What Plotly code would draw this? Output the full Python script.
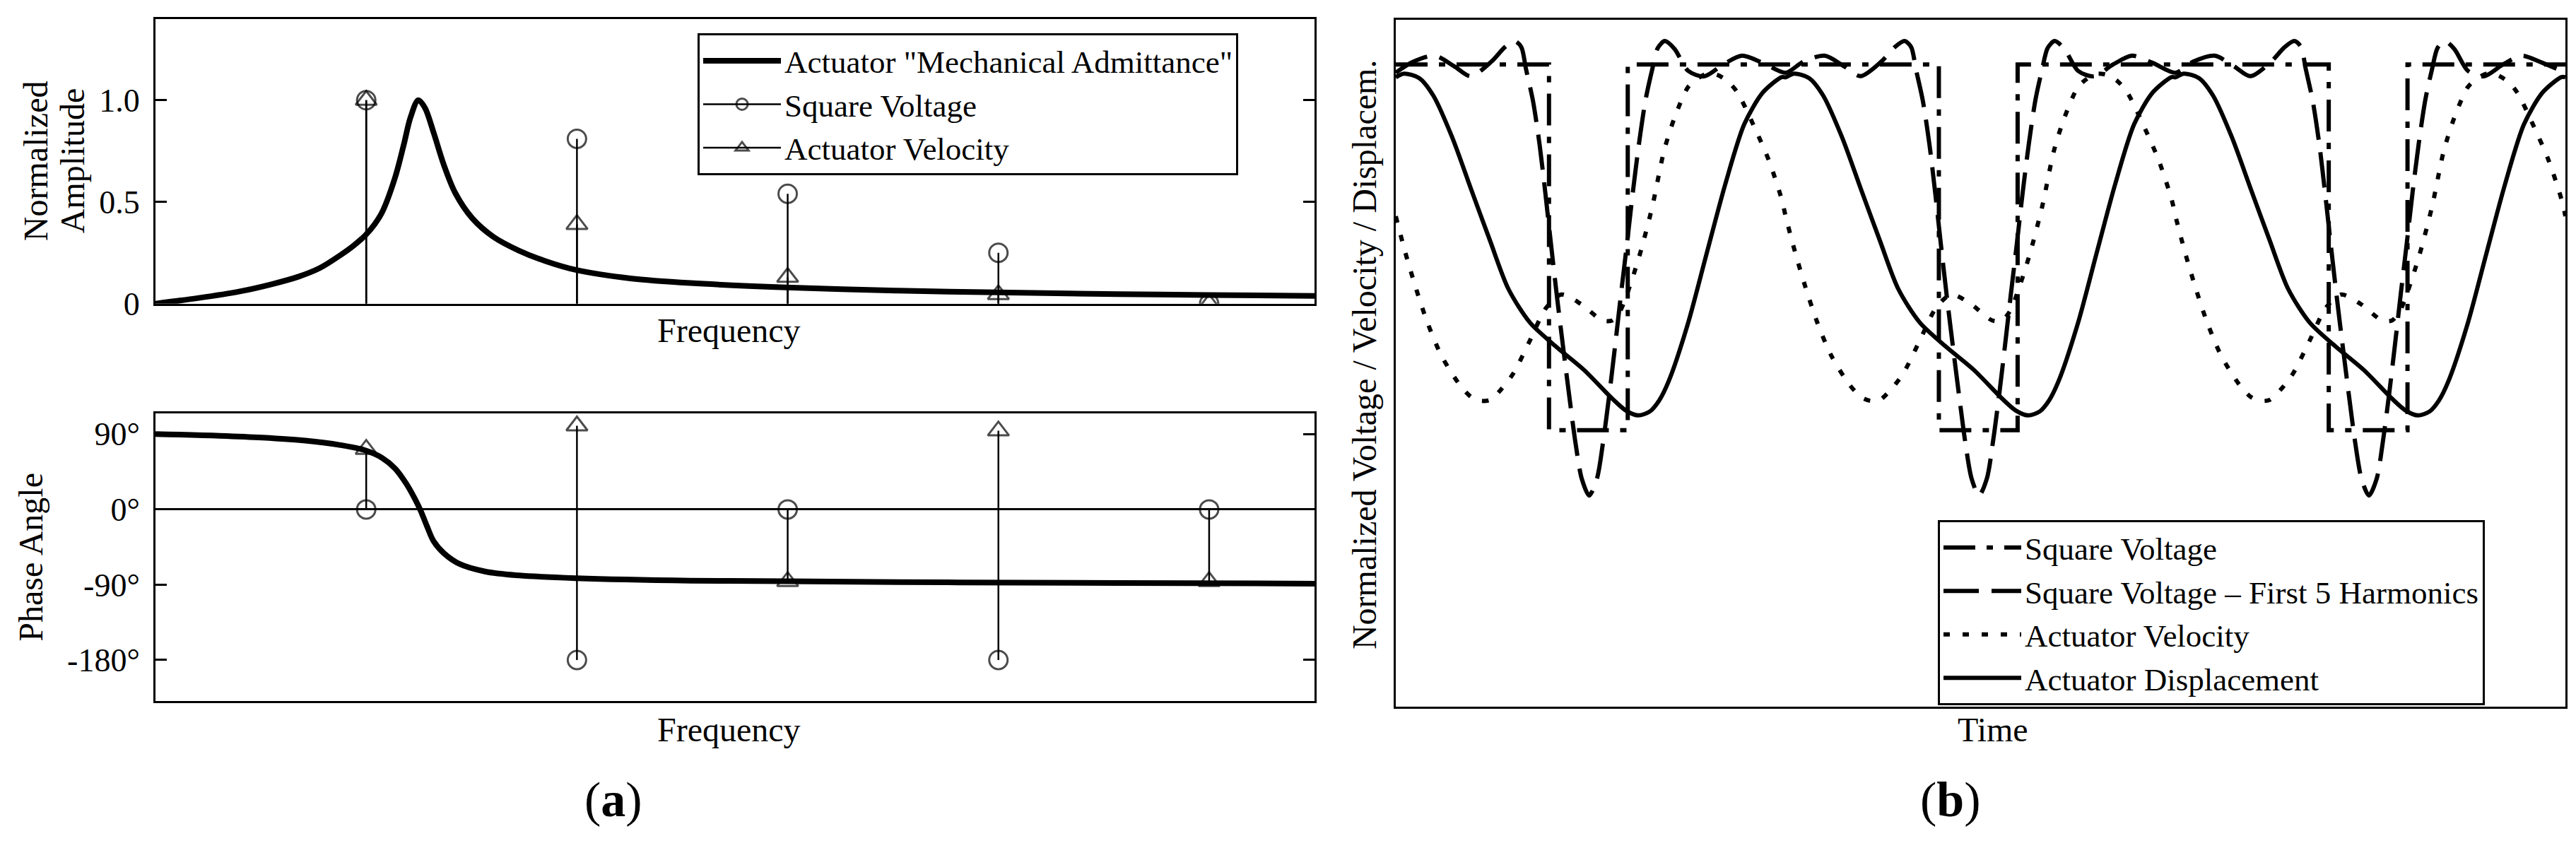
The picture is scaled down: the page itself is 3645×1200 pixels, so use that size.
import plotly.graph_objects as go

FONT = "Liberation Serif"
W, H = 3645, 1200

# ---------------- Panel (a): frequency response ----------------
AMP_F = [0.000, 0.200, 0.400, 0.550, 0.680, 0.780, 0.873, 0.940, 0.995, 1.040, 1.076,
         1.137, 1.178, 1.210, 1.247, 1.279, 1.320, 1.369, 1.422, 1.503, 1.604, 1.726,
         1.848, 1.998, 2.254, 2.539, 2.993, 3.513, 3.997, 4.569, 4.996, 5.500]
AMP = [0.000, 0.027, 0.060, 0.095, 0.133, 0.175, 0.235, 0.285, 0.335, 0.390, 0.450,
       0.620, 0.780, 0.915, 1.000, 0.962, 0.840, 0.680, 0.545, 0.420, 0.328, 0.260,
       0.210, 0.165, 0.124, 0.101, 0.080, 0.064, 0.055, 0.047, 0.042, 0.038]

PH_F = [0.000, 0.305, 0.508, 0.711, 0.873, 0.995, 1.076, 1.137, 1.190, 1.231, 1.259,
        1.288, 1.320, 1.369, 1.442, 1.564, 1.726, 1.998, 2.539, 2.993, 3.757, 4.569, 5.500]
PH = [90.1, 88.0, 85.8, 82.2, 77.1, 70.6, 61.5, 48.9, 30.8, 12.7, -1.8,
      -19.9, -38.0, -52.5, -65.1, -74.2, -78.9, -82.2, -85.1, -85.8, -87.2, -87.9, -88.7]

HARM_N = [1, 2, 3, 4, 5]
SQV_AMP = [1.0, 0.81, 0.54, 0.25, 0.0]
VEL_AMP = [1.0, 0.39, 0.13, 0.045, 0.0]
SQV_PH = [0, -180, 0, -180, 0]
VEL_PH = [72, 100, -86, 94, -86]

AMP_TICKS = [0, 0.5, 1.0]
AMP_TICKTEXT = ["0", "0.5", "1.0"]
PH_TICKS = [-180, -90, 0, 90]
PH_TICKTEXT = ["-180°", "-90°", "0°", "90°"]

# ---------------- Panel (b): time signals ----------------
SQ_T = [0.000, 0.393, 0.393, 0.595, 0.595, 1.393, 1.393, 1.595, 1.595,
        2.393, 2.393, 2.595, 2.595, 3.000]
SQ_V = [1, 1, -1, -1, 1, 1, -1, -1, 1, 1, -1, -1, 1, 1]

HARM_T = [
    0.000, 0.045, 0.100, 0.150, 0.192, 0.245, 0.280, 0.305, 0.322, 0.334, 0.352, 0.369, 0.384,
    0.399, 0.414, 0.430, 0.446, 0.461, 0.477, 0.496, 0.516, 0.532, 0.548, 0.563, 0.578, 0.593,
    0.608, 0.624, 0.641, 0.658, 0.672, 0.690, 0.715, 0.750, 0.791, 0.840, 0.888, 0.940,
    1.000, 1.045, 1.100, 1.150, 1.192, 1.245, 1.280, 1.305, 1.322, 1.334, 1.352, 1.369, 1.384,
    1.399, 1.414, 1.430, 1.446, 1.461, 1.477, 1.496, 1.516, 1.532, 1.548, 1.563, 1.578, 1.593,
    1.608, 1.624, 1.641, 1.658, 1.672, 1.690, 1.715, 1.750, 1.791, 1.840, 1.888, 1.940,
    2.000, 2.045, 2.100, 2.150, 2.192, 2.245, 2.280, 2.305, 2.322, 2.334, 2.352, 2.369, 2.384,
    2.399, 2.414, 2.430, 2.446, 2.461, 2.477, 2.496, 2.516, 2.532, 2.548, 2.563, 2.578, 2.593,
    2.608, 2.624, 2.641, 2.658, 2.672, 2.690, 2.715, 2.750, 2.791, 2.840, 2.888, 2.940,
    3.000]
HARM_V = [
    0.955, 1.015, 1.048, 0.990, 0.936, 1.015, 1.095, 1.128, 1.095, 0.975, 0.800, 0.560, 0.290,
    0.000, -0.280, -0.560, -0.830, -1.070, -1.265, -1.357, -1.265, -1.060, -0.800, -0.530, -0.250, 0.020,
    0.300, 0.570, 0.810, 0.975, 1.090, 1.128, 1.085, 0.965, 0.935, 1.000, 1.048, 1.010,
    0.955, 1.015, 1.048, 0.990, 0.936, 1.015, 1.095, 1.128, 1.095, 0.975, 0.800, 0.560, 0.290,
    0.000, -0.280, -0.560, -0.830, -1.070, -1.265, -1.357, -1.265, -1.060, -0.800, -0.530, -0.250, 0.020,
    0.300, 0.570, 0.810, 0.975, 1.090, 1.128, 1.085, 0.965, 0.935, 1.000, 1.048, 1.010,
    0.955, 1.015, 1.048, 0.990, 0.936, 1.015, 1.095, 1.128, 1.095, 0.975, 0.800, 0.560, 0.290,
    0.000, -0.280, -0.560, -0.830, -1.070, -1.265, -1.357, -1.265, -1.060, -0.800, -0.530, -0.250, 0.020,
    0.300, 0.570, 0.810, 0.975, 1.090, 1.128, 1.085, 0.965, 0.935, 1.000, 1.048, 1.010,
    0.955]

VEL_T = [
    0.000, 0.024, 0.051, 0.081, 0.117, 0.163, 0.193, 0.217, 0.241, 0.271, 0.302, 0.344, 0.386,
    0.425, 0.475, 0.530, 0.555, 0.575, 0.592, 0.625, 0.658, 0.688, 0.715, 0.749, 0.770, 0.797,
    0.824, 0.851, 0.876, 0.918, 0.957, 0.990,
    1.000, 1.024, 1.051, 1.081, 1.117, 1.163, 1.193, 1.217, 1.241, 1.271, 1.302, 1.344, 1.386,
    1.425, 1.475, 1.530, 1.555, 1.575, 1.592, 1.625, 1.658, 1.688, 1.715, 1.749, 1.770, 1.797,
    1.824, 1.851, 1.876, 1.918, 1.957, 1.990,
    2.000, 2.024, 2.051, 2.081, 2.117, 2.163, 2.193, 2.217, 2.241, 2.271, 2.302, 2.344, 2.386,
    2.425, 2.475, 2.530, 2.555, 2.575, 2.592, 2.625, 2.658, 2.688, 2.715, 2.749, 2.770, 2.797,
    2.824, 2.851, 2.876, 2.918, 2.957, 2.990,
    3.000]
VEL_V = [
    0.170, -0.025, -0.219, -0.410, -0.592, -0.749, -0.818, -0.839, -0.835, -0.775, -0.688, -0.510, -0.330,
    -0.258, -0.310, -0.400, -0.400, -0.350, -0.263, -0.046, 0.223, 0.527, 0.709, 0.874, 0.917, 0.949,
    0.943, 0.909, 0.848, 0.666, 0.475, 0.262,
    0.170, -0.025, -0.219, -0.410, -0.592, -0.749, -0.818, -0.839, -0.835, -0.775, -0.688, -0.510, -0.330,
    -0.258, -0.310, -0.400, -0.400, -0.350, -0.263, -0.046, 0.223, 0.527, 0.709, 0.874, 0.917, 0.949,
    0.943, 0.909, 0.848, 0.666, 0.475, 0.262,
    0.170, -0.025, -0.219, -0.410, -0.592, -0.749, -0.818, -0.839, -0.835, -0.775, -0.688, -0.510, -0.330,
    -0.258, -0.310, -0.400, -0.400, -0.350, -0.263, -0.046, 0.223, 0.527, 0.709, 0.874, 0.917, 0.949,
    0.943, 0.909, 0.848, 0.666, 0.475, 0.262,
    0.170]

DISP_T = [
    0.000, 0.021, 0.060, 0.096, 0.144, 0.193, 0.241, 0.289, 0.344, 0.410, 0.483, 0.555,
    0.590, 0.622, 0.652, 0.676, 0.700, 0.749, 0.797, 0.845, 0.894, 0.942, 0.990,
    1.000, 1.021, 1.060, 1.096, 1.144, 1.193, 1.241, 1.289, 1.344, 1.410, 1.483, 1.555,
    1.590, 1.622, 1.652, 1.676, 1.700, 1.749, 1.797, 1.845, 1.894, 1.942, 1.990,
    2.000, 2.021, 2.060, 2.096, 2.144, 2.193, 2.241, 2.289, 2.344, 2.410, 2.483, 2.555,
    2.590, 2.622, 2.652, 2.676, 2.700, 2.749, 2.797, 2.845, 2.894, 2.942, 2.990,
    3.000]
DISP_V = [
    0.930, 0.950, 0.926, 0.831, 0.605, 0.319, 0.041, -0.228, -0.411, -0.541, -0.671, -0.827,
    -0.892, -0.919, -0.897, -0.836, -0.732, -0.420, -0.037, 0.344, 0.674, 0.848, 0.931,
    0.930, 0.950, 0.926, 0.831, 0.605, 0.319, 0.041, -0.228, -0.411, -0.541, -0.671, -0.827,
    -0.892, -0.919, -0.897, -0.836, -0.732, -0.420, -0.037, 0.344, 0.674, 0.848, 0.931,
    0.930, 0.950, 0.926, 0.831, 0.605, 0.319, 0.041, -0.228, -0.411, -0.541, -0.671, -0.827,
    -0.892, -0.919, -0.897, -0.836, -0.732, -0.420, -0.037, 0.344, 0.674, 0.848, 0.931,
    0.930]

MS = 26
LEG_FONT = 45


def stems(xs, ys, base=0.0):
    sx, sy, ss = [], [], []
    for x, y in zip(xs, ys):
        sx += [x, x, None]
        sy += [base, y, None]
        ss += [0, MS, MS]
    return sx, sy, ss


fig = go.Figure()

# Amplitude panel
fig.add_trace(go.Scatter(x=AMP_F, y=AMP, mode="lines", name='Actuator "Mechanical Admittance"',
                         line=dict(color="black", width=8, shape="spline", smoothing=0.9),
                         xaxis="x", yaxis="y", legend="legend"))
sx, sy, ss = stems(HARM_N, SQV_AMP)
fig.add_trace(go.Scatter(x=sx, y=sy, mode="lines+markers", name="Square Voltage",
                         line=dict(color="black", width=2.5),
                         marker=dict(symbol="circle-open", size=ss, color="black",
                                     line=dict(width=3, color="black")),
                         xaxis="x", yaxis="y", legend="legend"))
sx, sy, ss = stems(HARM_N, VEL_AMP)
fig.add_trace(go.Scatter(x=sx, y=sy, mode="lines+markers", name="Actuator Velocity",
                         line=dict(color="black", width=2.5),
                         marker=dict(symbol="triangle-up-open", size=ss, color="black",
                                     line=dict(width=3, color="black")),
                         xaxis="x", yaxis="y", legend="legend"))

# Phase panel
fig.add_trace(go.Scatter(x=PH_F, y=PH, mode="lines", showlegend=False,
                         line=dict(color="black", width=8, shape="spline"),
                         xaxis="x2", yaxis="y2"))
sx, sy, ss = stems(HARM_N, SQV_PH)
fig.add_trace(go.Scatter(x=sx, y=sy, mode="lines+markers", showlegend=False,
                         line=dict(color="black", width=2.5),
                         marker=dict(symbol="circle-open", size=ss, color="black",
                                     line=dict(width=3, color="black")),
                         xaxis="x2", yaxis="y2"))
sx, sy, ss = stems(HARM_N, VEL_PH)
fig.add_trace(go.Scatter(x=sx, y=sy, mode="lines+markers", showlegend=False,
                         line=dict(color="black", width=2.5),
                         marker=dict(symbol="triangle-up-open", size=ss, color="black",
                                     line=dict(width=3, color="black")),
                         xaxis="x2", yaxis="y2"))

# Time panel
fig.add_trace(go.Scatter(x=SQ_T, y=SQ_V, mode="lines", name="Square Voltage",
                         line=dict(color="black", width=6, dash="45px,16px,9px,16px"),
                         xaxis="x3", yaxis="y3", legend="legend2"))
fig.add_trace(go.Scatter(x=HARM_T, y=HARM_V, mode="lines", name="Square Voltage – First 5 Harmonics",
                         line=dict(color="black", width=6, dash="50px,18px", shape="spline", smoothing=0.8),
                         xaxis="x3", yaxis="y3", legend="legend2"))
fig.add_trace(go.Scatter(x=VEL_T, y=VEL_V, mode="lines", name="Actuator Velocity",
                         line=dict(color="black", width=6, dash="9px,18px", shape="spline", smoothing=0.8),
                         xaxis="x3", yaxis="y3", legend="legend2"))
fig.add_trace(go.Scatter(x=DISP_T, y=DISP_V, mode="lines", name="Actuator Displacement",
                         line=dict(color="black", width=6, shape="spline", smoothing=0.8),
                         xaxis="x3", yaxis="y3", legend="legend2"))

tickfont = dict(family=FONT, size=46, color="black")
axis_common = dict(showline=True, linecolor="black", linewidth=3, showgrid=False,
                   zeroline=False, mirror=True)

px_x = lambda p: p / W
px_y = lambda p: 1 - p / H

fig.update_layout(
    width=W, height=H, autosize=False,
    margin=dict(l=0, r=0, t=0, b=0),
    paper_bgcolor="white", plot_bgcolor="white",
    font=dict(family=FONT, size=48, color="black"),
    xaxis=dict(domain=[px_x(212), px_x(1852)], range=[0, 5.5], anchor="y",
               showticklabels=False, ticks="", **axis_common),
    yaxis=dict(domain=[px_y(431), px_y(19)], range=[0, 1.4], anchor="x",
               tickvals=AMP_TICKS, ticktext=AMP_TICKTEXT, ticks="inside", ticklen=16,
               tickwidth=3, tickcolor="black", tickfont=tickfont, ticklabelstandoff=10,
               **{**axis_common, "mirror": "ticks"}),
    xaxis2=dict(domain=[px_x(212), px_x(1852)], range=[0, 5.5], anchor="y2",
                showticklabels=False, ticks="", **axis_common),
    yaxis2=dict(domain=[px_y(1006), px_y(590)], range=[-229.18, 114.59], anchor="x2",
                tickvals=PH_TICKS, ticktext=PH_TICKTEXT, ticks="inside", ticklen=16,
                tickwidth=3, tickcolor="black", tickfont=tickfont, ticklabelstandoff=10,
                showline=True, linecolor="black", linewidth=3, showgrid=False, mirror="ticks",
                zeroline=True, zerolinecolor="black", zerolinewidth=3),
    xaxis3=dict(domain=[px_x(1967), px_x(3622)], range=[0, 3], anchor="y3",
                showticklabels=False, ticks="", **axis_common),
    yaxis3=dict(domain=[px_y(1014), px_y(20)], range=[-2.512, 1.246], anchor="x3",
                showticklabels=False, ticks="", **axis_common),
    legend=dict(x=px_x(979), y=px_y(40), xanchor="left", yanchor="top",
                bgcolor="white", bordercolor="black", borderwidth=3,
                font=dict(family=FONT, size=LEG_FONT, color="black"),
                itemwidth=110, tracegroupgap=0),
    legend2=dict(x=px_x(2734), y=px_y(744), xanchor="left", yanchor="top",
                 bgcolor="white", bordercolor="black", borderwidth=3,
                 font=dict(family=FONT, size=LEG_FONT, color="black"),
                 itemwidth=110, tracegroupgap=0),
)

ann_font = dict(family=FONT, size=48, color="black")
annotations = [
    dict(text="Normalized", x=px_x(42), y=px_y(225), textangle=-90),
    dict(text="Amplitude", x=px_x(94), y=px_y(225), textangle=-90),
    dict(text="Phase Angle", x=px_x(36), y=px_y(798), textangle=-90),
    dict(text="Frequency", x=px_x(1023), y=px_y(470)),
    dict(text="Frequency", x=px_x(1023), y=px_y(1047)),
    dict(text="Time", x=px_x(2812), y=px_y(1047)),
    dict(text="Normalized Voltage / Velocity / Displacem.", x=px_x(1922), y=px_y(505), textangle=-90),
]
for a in annotations:
    fig.add_annotation(xref="paper", yref="paper", showarrow=False,
                       xanchor="center", yanchor="middle", font=ann_font, **a)
for txt, xp in [("(<b>a</b>)", 860), ("(<b>b</b>)", 2752)]:
    fig.add_annotation(text=txt, x=px_x(xp), y=px_y(1148), xref="paper", yref="paper",
                       showarrow=False, xanchor="center", yanchor="middle",
                       font=dict(family=FONT, size=70, color="black"))

fig.write_html("out.html")
